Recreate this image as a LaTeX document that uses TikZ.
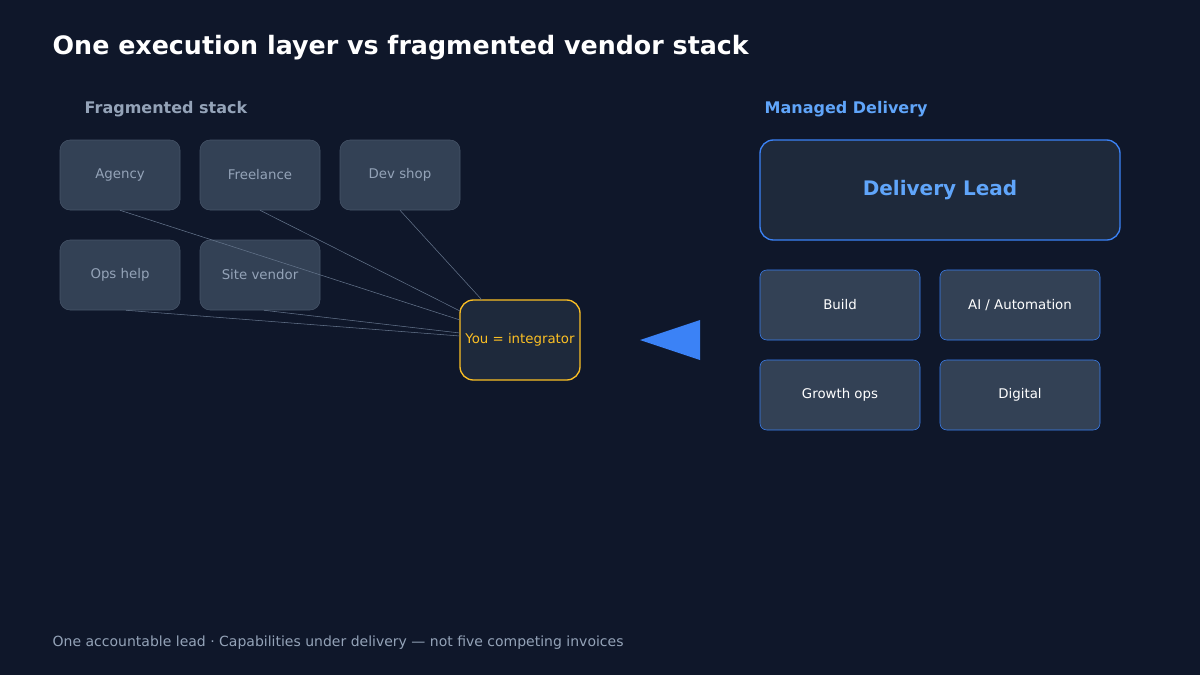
\documentclass[tikz,border=0pt]{standalone}
\usepackage{fontspec}
\setmainfont{DejaVu Sans}
\definecolor{bg}{HTML}{0F172A}
\definecolor{boxf}{HTML}{334155}
\definecolor{boxd}{HTML}{475569}
\definecolor{grayt}{HTML}{94A3B8}
\definecolor{yel}{HTML}{FBBF24}
\definecolor{darkf}{HTML}{1E293B}
\definecolor{bluet}{HTML}{60A5FA}
\definecolor{blued}{HTML}{3B82F6}
\definecolor{linec}{HTML}{64748B}
\begin{document}
\begin{tikzpicture}[x=0.75pt,y=-0.75pt,
 frag/.style={draw=boxd,fill=boxf,rounded corners=7.5pt,minimum width=90pt,minimum height=52.5pt,inner sep=0pt,text=grayt,font=\fontsize{10}{12}\selectfont},
 capbox/.style={draw=blued,fill=boxf,rounded corners=5pt,minimum width=120pt,minimum height=52.5pt,inner sep=0pt,text=white,font=\fontsize{10}{12}\selectfont},
 conn/.style={draw=linec,line width=0.4pt}]
\fill[bg] (0,0) rectangle (1200,675);
\useasboundingbox (0,0) rectangle (1200,675);
\node[anchor=west,text=white,font=\fontsize{19}{22}\selectfont\bfseries] (title) at (48,48) {One execution layer vs fragmented vendor stack};
\node[anchor=west,text=grayt,font=\fontsize{12}{14}\selectfont\bfseries] (fl) at (80,109) {Fragmented stack};
\node[anchor=west,text=bluet,font=\fontsize{12}{14}\selectfont\bfseries] (ml) at (760,109) {Managed Delivery};
\node[frag] (agency) at (120,175) {Agency};
\node[frag] (free) at (260,175) {Freelance};
\node[frag] (dev) at (400,175) {Dev shop};
\node[frag] (ops) at (120,275) {Ops help};
\node[frag] (site) at (260,275) {Site vendor};
\node[draw=yel,fill=darkf,line width=1pt,rounded corners=10pt,minimum width=90pt,minimum height=60pt,inner sep=0pt,text=yel,font=\fontsize{10}{12}\selectfont] (you) at (520,340) {You = integrator};
\coordinate (e1) at (460,320);
\coordinate (e2) at (460,311);
\coordinate (e3) at (482,300);
\coordinate (e4) at (460,336);
\coordinate (e5) at (460,333);
\draw[conn] (agency.south) -- (e1);
\draw[conn] (free.south) -- (e2);
\draw[conn] (dev.south) -- (e3);
\draw[conn] ([xshift=4.5pt]ops.south) -- (e4);
\draw[conn] ([xshift=3pt]site.south) -- (e5);
\fill[blued] (640,340) -- (700,320) -- (700,360) -- cycle;
\node[draw=blued,fill=darkf,line width=1pt,rounded corners=10pt,minimum width=270pt,minimum height=75pt,inner sep=0pt,text=bluet,font=\fontsize{15}{18}\selectfont\bfseries] (lead) at (940,190) {Delivery Lead};
\node[capbox] (build) at (840,305) {Build};
\node[capbox] (ai) at (1020,305) {AI / Automation};
\node[capbox] (growth) at (840,395) {Growth ops};
\node[capbox] (digital) at (1020,395) {Digital};
\node[anchor=west,text=grayt,font=\fontsize{10.5}{12}\selectfont] (foot) at (48,643) {One accountable lead · Capabilities under delivery — not five competing invoices};
\end{tikzpicture}
\end{document}
